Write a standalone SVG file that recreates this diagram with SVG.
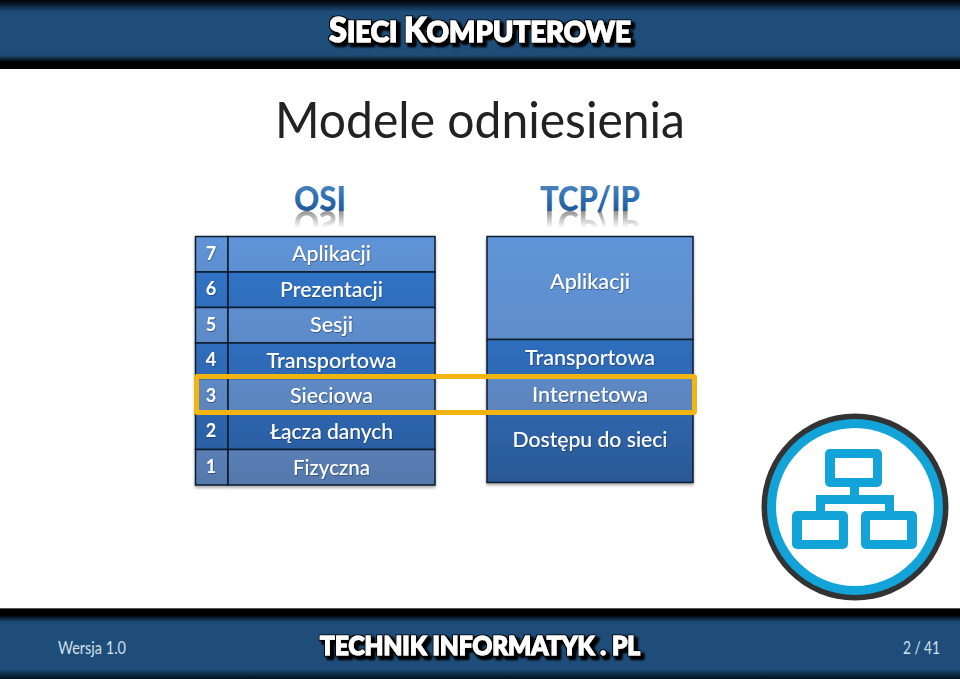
<svg xmlns="http://www.w3.org/2000/svg" width="960" height="679" viewBox="0 0 960 679">
<style>
text{font-family:Lato,"Liberation Sans",sans-serif}
.lab{fill:#fff;font-size:21.500px;font-weight:500;text-anchor:middle;filter:url(#ts)}
.num{fill:#fff;font-size:18px;font-weight:700;text-anchor:middle;filter:url(#ts)}
.cell{stroke:#0c1a2c;stroke-width:1.5}
.logo{font-weight:900;filter:url(#hs);fill:#fff;stroke:#fff;stroke-width:1.100}
.foot{fill:#d3e0ec;font-size:16.500px}
.gold{fill:none;stroke:#f2b410;stroke-width:5}
.blue{fill:#12a3d8}
.hole{fill:#fff}
.ttl{font-weight:900;stroke-width:0.600}
</style>
<defs>
<filter id="ts" x="-10%" y="-20%" width="120%" height="140%"><feDropShadow dx="0.6" dy="0.8" stdDeviation="0.5" flood-color="#12305a" flood-opacity="0.7"/></filter>
<filter id="hs" x="-5%" y="-20%" width="112%" height="160%"><feMorphology in="SourceAlpha" operator="dilate" radius="1.200" result="o"/><feOffset in="o" dx="2.500" dy="3" result="s1"/><feGaussianBlur in="s1" stdDeviation="1.300" result="s2"/><feMerge><feMergeNode in="s2"/><feMergeNode in="s2"/><feMergeNode in="o"/><feMergeNode in="SourceGraphic"/></feMerge></filter>
<filter id="ds" x="-5%" y="-5%" width="110%" height="112%"><feDropShadow dx="0" dy="2" stdDeviation="1.5" flood-color="#000" flood-opacity="0.35"/></filter>
<linearGradient id="hdr" x1="0" y1="0" x2="0" y2="1">
<stop offset="0" stop-color="#000"/><stop offset="0.06" stop-color="#071a2c"/><stop offset="0.17" stop-color="#1e4d79"/><stop offset="0.8" stop-color="#1e4d79"/><stop offset="0.9" stop-color="#000"/><stop offset="1" stop-color="#000"/>
</linearGradient>
<linearGradient id="ftr" x1="0" y1="0" x2="0" y2="1">
<stop offset="0" stop-color="#000"/><stop offset="0.1" stop-color="#000"/><stop offset="0.2" stop-color="#1e4d79"/><stop offset="0.86" stop-color="#1e4d79"/><stop offset="1" stop-color="#01101e"/>
</linearGradient>
<linearGradient id="g7" x1="0" y1="0" x2="0" y2="1"><stop offset="0" stop-color="#5f94d8"/><stop offset="1" stop-color="#5d8fd0"/></linearGradient>
<linearGradient id="g6" x1="0" y1="0" x2="0" y2="1"><stop offset="0" stop-color="#3073c4"/><stop offset="1" stop-color="#2f6fbd"/></linearGradient>
<linearGradient id="g5" x1="0" y1="0" x2="0" y2="1"><stop offset="0" stop-color="#5e8fd0"/><stop offset="1" stop-color="#5c8ac8"/></linearGradient>
<linearGradient id="g4" x1="0" y1="0" x2="0" y2="1"><stop offset="0" stop-color="#2f6ebd"/><stop offset="1" stop-color="#2e69b3"/></linearGradient>
<linearGradient id="g3" x1="0" y1="0" x2="0" y2="1"><stop offset="0" stop-color="#5d89c5"/><stop offset="1" stop-color="#5a84bc"/></linearGradient>
<linearGradient id="g2" x1="0" y1="0" x2="0" y2="1"><stop offset="0" stop-color="#2d65ad"/><stop offset="1" stop-color="#2c5fa3"/></linearGradient>
<linearGradient id="g1" x1="0" y1="0" x2="0" y2="1"><stop offset="0" stop-color="#5a7fb6"/><stop offset="1" stop-color="#5578ab"/></linearGradient>
<linearGradient id="tA" x1="0" y1="0" x2="0" y2="1"><stop offset="0" stop-color="#6095d9"/><stop offset="1" stop-color="#5e8dcb"/></linearGradient>
<linearGradient id="tD" x1="0" y1="0" x2="0" y2="1"><stop offset="0" stop-color="#2e66ad"/><stop offset="1" stop-color="#2b5894"/></linearGradient>
<linearGradient id="lg" x1="0" y1="0" x2="0" y2="1"><stop offset="0" stop-color="#5a90c6"/><stop offset="0.55" stop-color="#2c6dae"/><stop offset="1" stop-color="#1c4f87"/></linearGradient>
<linearGradient id="fade" gradientUnits="userSpaceOnUse" x1="0" y1="210" x2="0" y2="228"><stop offset="0" stop-color="#fff" stop-opacity="1"/><stop offset="1" stop-color="#fff" stop-opacity="0"/></linearGradient>
<mask id="rm" maskUnits="userSpaceOnUse" x="280" y="205" width="380" height="30"><rect x="280" y="205" width="380" height="30" fill="url(#fade)"/></mask>
</defs>

<rect width="960" height="679" fill="#fff"/>

<g id="header">
<rect width="960" height="69" fill="url(#hdr)"/>
<text class="logo" x="329" y="41.500" font-size="34" textLength="302" lengthAdjust="spacingAndGlyphs">S<tspan font-size="29">IECI </tspan>K<tspan font-size="29">OMPUTEROWE</tspan></text>
</g>

<g id="title"><text x="275" y="138" font-size="50" font-weight="400" fill="#222" textLength="410" lengthAdjust="spacingAndGlyphs">Modele odniesienia</text></g>

<g id="osi-logo">
<g mask="url(#rm)"><use href="#osi-text" fill="#8a8a8a" transform="translate(0,421) scale(1,-1)"/></g>
<g fill="url(#lg)" stroke="none"><text id="osi-text" class="ttl" font-size="34" x="294" y="210.500" textLength="52" lengthAdjust="spacingAndGlyphs">OSI</text></g>
</g>
<g id="tcpip-logo">
<g mask="url(#rm)"><use href="#tcp-text" fill="#8a8a8a" transform="translate(0,422) scale(1,-1)"/></g>
<g fill="url(#lg)" stroke="none"><text id="tcp-text" class="ttl" font-size="34" x="540" y="211" textLength="100" lengthAdjust="spacingAndGlyphs">TCP/IP</text></g>
</g>

<g id="osi-table" filter="url(#ds)">
<g id="osi-7"><rect class="cell" x="195.500" y="236.500" width="32.500" height="35.500" fill="url(#g7)"/><rect class="cell" x="228" y="236.500" width="207" height="35.500" fill="url(#g7)"/><text class="num" x="211" y="260">7</text><text class="lab" x="331.500" y="261" textLength="79" lengthAdjust="spacingAndGlyphs">Aplikacji</text></g>
<g id="osi-6"><rect class="cell" x="195.500" y="272" width="32.500" height="35.500" fill="url(#g6)"/><rect class="cell" x="228" y="272" width="207" height="35.500" fill="url(#g6)"/><text class="num" x="211" y="295">6</text><text class="lab" x="331.500" y="297" textLength="103" lengthAdjust="spacingAndGlyphs">Prezentacji</text></g>
<g id="osi-5"><rect class="cell" x="195.500" y="307.500" width="32.500" height="35.500" fill="url(#g5)"/><rect class="cell" x="228" y="307.500" width="207" height="35.500" fill="url(#g5)"/><text class="num" x="211" y="331">5</text><text class="lab" x="331.500" y="332" textLength="43" lengthAdjust="spacingAndGlyphs">Sesji</text></g>
<g id="osi-4"><rect class="cell" x="195.500" y="343" width="32.500" height="35.500" fill="url(#g4)"/><rect class="cell" x="228" y="343" width="207" height="35.500" fill="url(#g4)"/><text class="num" x="211" y="366">4</text><text class="lab" x="331.500" y="368" textLength="130" lengthAdjust="spacingAndGlyphs">Transportowa</text></g>
<g id="osi-3"><rect class="cell" x="195.500" y="378.500" width="32.500" height="35.500" fill="url(#g3)"/><rect class="cell" x="228" y="378.500" width="207" height="35.500" fill="url(#g3)"/><text class="num" x="211" y="402">3</text><text class="lab" x="331.500" y="403" textLength="83" lengthAdjust="spacingAndGlyphs">Sieciowa</text></g>
<g id="osi-2"><rect class="cell" x="195.500" y="414" width="32.500" height="35.500" fill="url(#g2)"/><rect class="cell" x="228" y="414" width="207" height="35.500" fill="url(#g2)"/><text class="num" x="211" y="437">2</text><text class="lab" x="331.500" y="439" textLength="123" lengthAdjust="spacingAndGlyphs">Łącza danych</text></g>
<g id="osi-1"><rect class="cell" x="195.500" y="449.500" width="32.500" height="35.500" fill="url(#g1)"/><rect class="cell" x="228" y="449.500" width="207" height="35.500" fill="url(#g1)"/><text class="num" x="211" y="473">1</text><text class="lab" x="331.500" y="475" textLength="77" lengthAdjust="spacingAndGlyphs">Fizyczna</text></g>
</g>

<g id="tcp-table" filter="url(#ds)">
<g id="tcp-app"><rect class="cell" x="487" y="236.500" width="206" height="103" fill="url(#tA)"/><text class="lab" x="590" y="289" textLength="80" lengthAdjust="spacingAndGlyphs">Aplikacji</text></g>
<g id="tcp-trans"><rect class="cell" x="487" y="339.500" width="206" height="38" fill="url(#g4)"/><text class="lab" x="590" y="365" textLength="130" lengthAdjust="spacingAndGlyphs">Transportowa</text></g>
<g id="tcp-int"><rect class="cell" x="487" y="377.500" width="206" height="36" fill="url(#g3)"/><text class="lab" x="590" y="402" textLength="116" lengthAdjust="spacingAndGlyphs">Internetowa</text></g>
<g id="tcp-acc"><rect class="cell" x="487" y="413.500" width="206" height="69" fill="url(#tD)"/><text class="lab" x="590" y="447" textLength="155" lengthAdjust="spacingAndGlyphs">Dostępu do sieci</text></g>
</g>

<g id="connectors"><rect class="gold" x="196.500" y="376.500" width="498" height="36" rx="1"/></g>

<g id="network-icon">
<circle cx="855" cy="507" r="93.500" fill="#333"/>
<circle cx="855" cy="507" r="88" fill="#12a3d8"/>
<circle cx="855" cy="507" r="79" fill="#fff"/>
<path class="blue" d="M850 487h9v8h35v16h-9v-7h-60v7h-9v-16h34z"/>
<rect class="blue" x="825" y="449" width="57" height="38" rx="5"/><rect class="hole" x="835" y="458" width="38" height="20"/>
<rect class="blue" x="792" y="511" width="56" height="38" rx="5"/><rect class="hole" x="802" y="520" width="37" height="20"/>
<rect class="blue" x="861" y="511" width="56" height="38" rx="5"/><rect class="hole" x="870" y="520" width="37" height="20"/>
</g>

<g id="footer">
<rect y="608" width="960" height="71" fill="url(#ftr)"/>
<rect y="608" width="960" height="1" fill="#555"/>
<text class="foot" x="58" y="654" textLength="68" lengthAdjust="spacingAndGlyphs">Wersja 1.0</text>
<text class="logo" x="320" y="655" font-size="26" textLength="320" lengthAdjust="spacingAndGlyphs">TECHNIK INFORMATYK . PL</text>
<text class="foot" x="903" y="654" textLength="37" lengthAdjust="spacingAndGlyphs">2 / 41</text>
</g>
</svg>
